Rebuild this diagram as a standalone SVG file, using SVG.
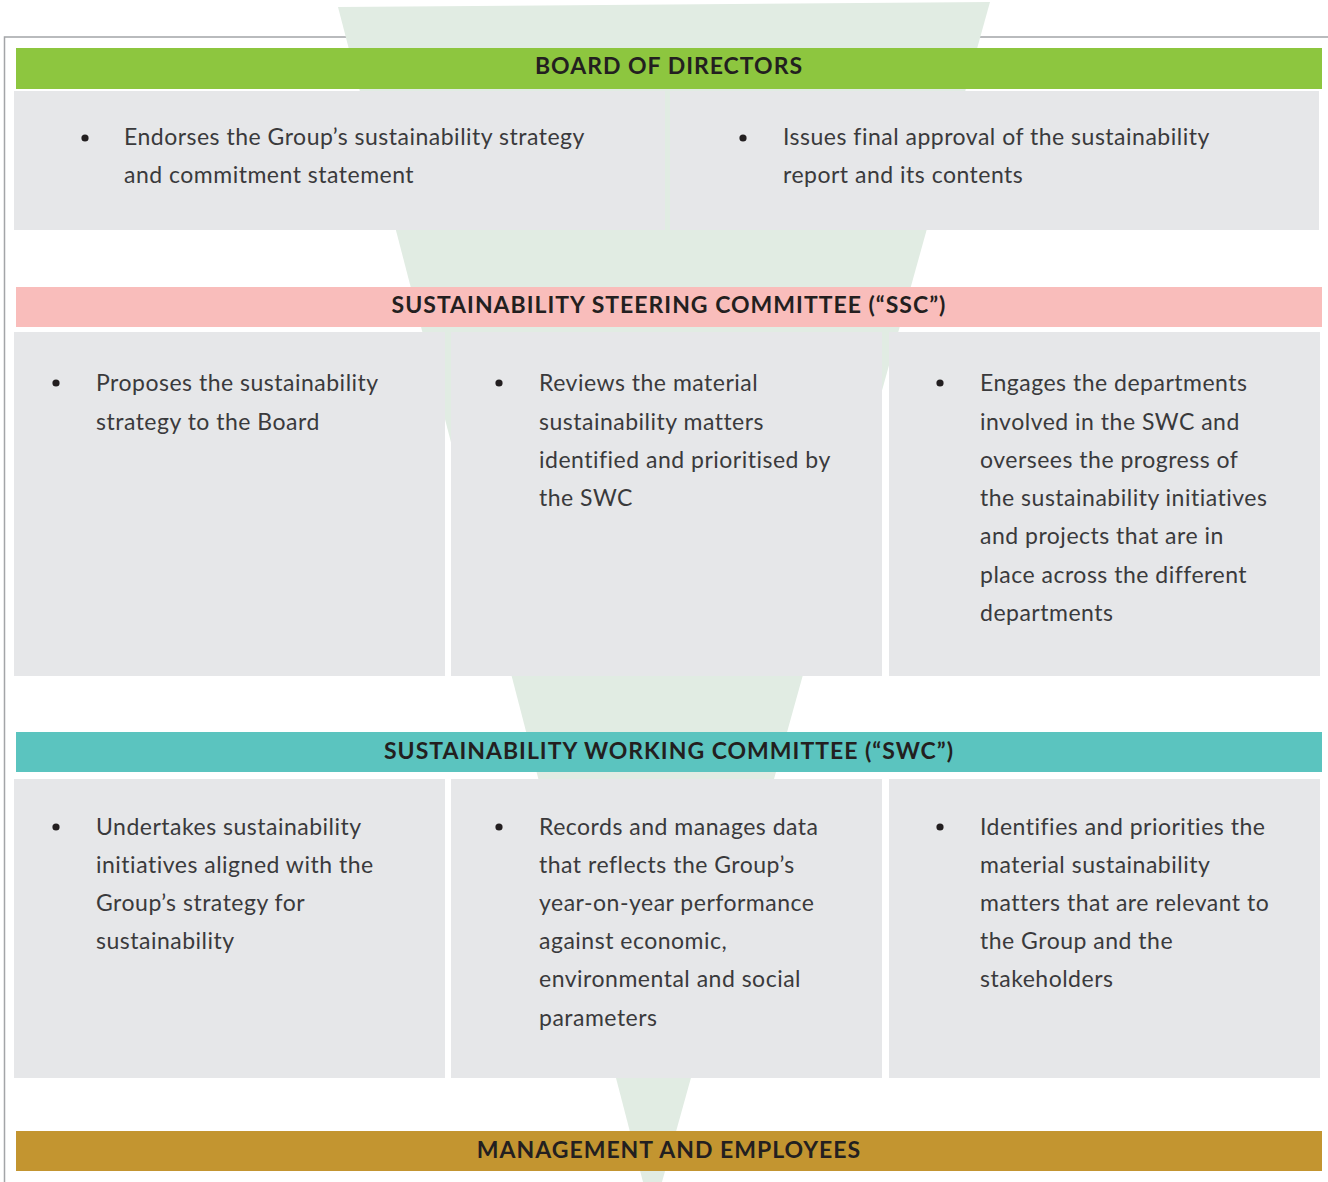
<svg xmlns="http://www.w3.org/2000/svg" width="1328" height="1182" viewBox="0 0 1328 1182">
  <style>
    .frame { stroke: #a3a5a8; stroke-width: 1.5; fill: none; }
    .funnel { fill: #e1ece3; }
    .box { fill: #e6e7e9; }
    .head { font-family: Lato, "Liberation Sans", sans-serif; font-weight: 700; font-size: 23px; letter-spacing: 1px; fill: #231f20; text-anchor: middle; }
    .body { font-family: Lato, "Liberation Sans", sans-serif; font-size: 23px; letter-spacing: 0.5px; fill: #3a3a3c; }
    .dot { fill: #231f20; }
  </style>

  <!-- outer frame, partly hidden by the funnel -->
  <path class="frame" d="M4.5,1182 V37 H1328"/>

  <!-- funnel behind all tiers -->
  <polygon class="funnel" points="338,7 990,2 662,1182 643,1182"/>

  <!-- Board of Directors -->
  <g id="board">
    <rect x="16" y="48" width="1306" height="41" fill="#8dc63f"/>
    <text class="head" x="669" y="74">BOARD OF DIRECTORS</text>
    <rect class="box" x="14" y="91" width="651" height="139"/>
    <rect class="box" x="670" y="91" width="649" height="139"/>
    <circle class="dot" cx="85" cy="138" r="3.6"/>
    <text class="body" x="124" y="145">Endorses the Group’s sustainability strategy</text>
    <text class="body" x="124" y="183">and commitment statement</text>
    <circle class="dot" cx="743" cy="138" r="3.6"/>
    <text class="body" x="783" y="145">Issues final approval of the sustainability</text>
    <text class="body" x="783" y="183">report and its contents</text>
  </g>

  <!-- Sustainability Steering Committee -->
  <g id="ssc">
    <rect x="16" y="287" width="1306" height="40" fill="#f9bdbb"/>
    <text class="head" x="669" y="313">SUSTAINABILITY STEERING COMMITTEE (“SSC”)</text>
    <rect class="box" x="14" y="332" width="431" height="344"/>
    <rect class="box" x="451" y="332" width="431" height="344"/>
    <rect class="box" x="889" y="332" width="431" height="344"/>
    <circle class="dot" cx="56" cy="383" r="3.6"/>
    <text class="body" x="96" y="391">Proposes the sustainability</text>
    <text class="body" x="96" y="430">strategy to the Board</text>
    <circle class="dot" cx="499" cy="383" r="3.6"/>
    <text class="body" x="539" y="391">Reviews the material</text>
    <text class="body" x="539" y="430">sustainability matters</text>
    <text class="body" x="539" y="468">identified and prioritised by</text>
    <text class="body" x="539" y="506">the SWC</text>
    <circle class="dot" cx="940" cy="383" r="3.6"/>
    <text class="body" x="980" y="391">Engages the departments</text>
    <text class="body" x="980" y="430">involved in the SWC and</text>
    <text class="body" x="980" y="468">oversees the progress of</text>
    <text class="body" x="980" y="506">the sustainability initiatives</text>
    <text class="body" x="980" y="544">and projects that are in</text>
    <text class="body" x="980" y="583">place across the different</text>
    <text class="body" x="980" y="621">departments</text>
  </g>

  <!-- Sustainability Working Committee -->
  <g id="swc">
    <rect x="16" y="732" width="1306" height="40" fill="#5bc4bf"/>
    <text class="head" x="669" y="759">SUSTAINABILITY WORKING COMMITTEE (“SWC”)</text>
    <rect class="box" x="14" y="779" width="431" height="299"/>
    <rect class="box" x="451" y="779" width="431" height="299"/>
    <rect class="box" x="889" y="779" width="431" height="299"/>
    <circle class="dot" cx="56" cy="827" r="3.6"/>
    <text class="body" x="96" y="835">Undertakes sustainability</text>
    <text class="body" x="96" y="873">initiatives aligned with the</text>
    <text class="body" x="96" y="911">Group’s strategy for</text>
    <text class="body" x="96" y="949">sustainability</text>
    <circle class="dot" cx="499" cy="827" r="3.6"/>
    <text class="body" x="539" y="835">Records and manages data</text>
    <text class="body" x="539" y="873">that reflects the Group’s</text>
    <text class="body" x="539" y="911">year-on-year performance</text>
    <text class="body" x="539" y="949">against economic,</text>
    <text class="body" x="539" y="987">environmental and social</text>
    <text class="body" x="539" y="1026">parameters</text>
    <circle class="dot" cx="940" cy="827" r="3.6"/>
    <text class="body" x="980" y="835">Identifies and priorities the</text>
    <text class="body" x="980" y="873">material sustainability</text>
    <text class="body" x="980" y="911">matters that are relevant to</text>
    <text class="body" x="980" y="949">the Group and the</text>
    <text class="body" x="980" y="987">stakeholders</text>
  </g>

  <!-- Management and Employees -->
  <g id="management">
    <rect x="16" y="1131" width="1306" height="40" fill="#c39530"/>
    <text class="head" x="669" y="1158">MANAGEMENT AND EMPLOYEES</text>
  </g>

  <!-- tiers are stacked directly; no separate connector lines -->
  <g id="connectors"/>
</svg>
